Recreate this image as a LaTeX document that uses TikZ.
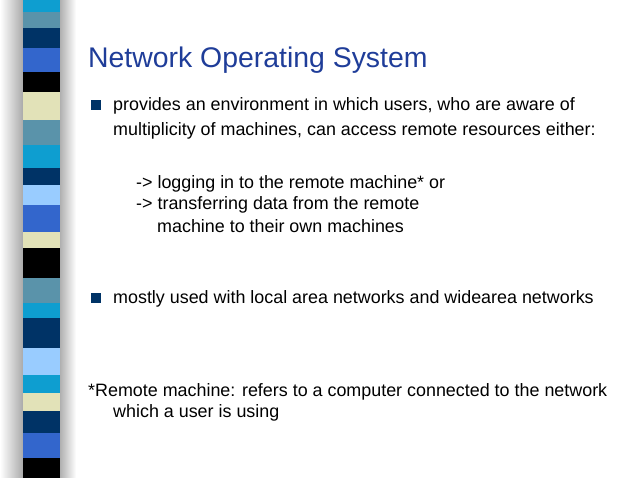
\documentclass[tikz,border=0pt]{standalone}
\usepackage{fontspec}
\setmainfont{Liberation Sans}
\definecolor{sCyan}{HTML}{0E9ED0}
\definecolor{sSteel}{HTML}{5A93AA}
\definecolor{sNavy}{HTML}{003366}
\definecolor{sBlue}{HTML}{3366CC}
\definecolor{sCream}{HTML}{E2E2B8}
\definecolor{sLight}{HTML}{99CCFF}
\definecolor{titleblue}{HTML}{1F3D99}
\begin{document}
\begin{tikzpicture}[x=1pt,y=-1pt,
  body/.style={anchor=base west,inner sep=0pt,font=\fontsize{17.9}{20}\selectfont},
  bul/.style={fill=sNavy,minimum size=10pt,inner sep=0pt}]
\useasboundingbox (0,0) rectangle (638,478);
\fill[white] (0,0) rectangle (638,478);
\shade[left color=white,right color=gray!70] (0,0) rectangle (24,478);
\shade[left color=gray!70,right color=white] (58,0) rectangle (76,478);
\def\stripes{0/12/sCyan,12/28/sSteel,28/48/sNavy,48/72/sBlue,72/92/black,92/120/sCream,120/145/sSteel,145/168/sCyan,168/185/sNavy,185/205/sLight,205/232/sBlue,232/248/sCream,248/278/black,278/303/sSteel,303/318/sCyan,318/348/sNavy,348/375/sLight,375/393/sCyan,393/411/sCream,411/433/sNavy,433/458/sBlue,458/478/black}
\foreach \a/\b/\c in \stripes {\fill[\c] (23,\a) rectangle (60,\b);}
\node[anchor=base west,inner sep=0pt,text=titleblue,font=\fontsize{28.4}{32}\selectfont] (title) at (88,68) {Network Operating System};
\node[bul] (b1) at (96,105) {};
\node[body] (l1) at (113,111) {provides an environment in which users, who are aware of};
\node[body] (l2) at (113,136) {multiplicity of machines, can access remote resources either:};
\node[body] (l3) at (136,189) {-> logging in to the remote machine* or};
\node[body] (l4) at (136,210) {-> transferring data from the remote};
\node[body] (l5) at (157,233) {machine to their own machines};
\node[bul] (b2) at (96,298) {};
\node[body] (l6) at (113,304) {mostly used with local area networks and widearea networks};
\node[body] (l7) at (88,397) {*Remote machine: refers to a computer connected to the network};
\node[body] (l8) at (113,418) {which a user is using};
\end{tikzpicture}
\end{document}
